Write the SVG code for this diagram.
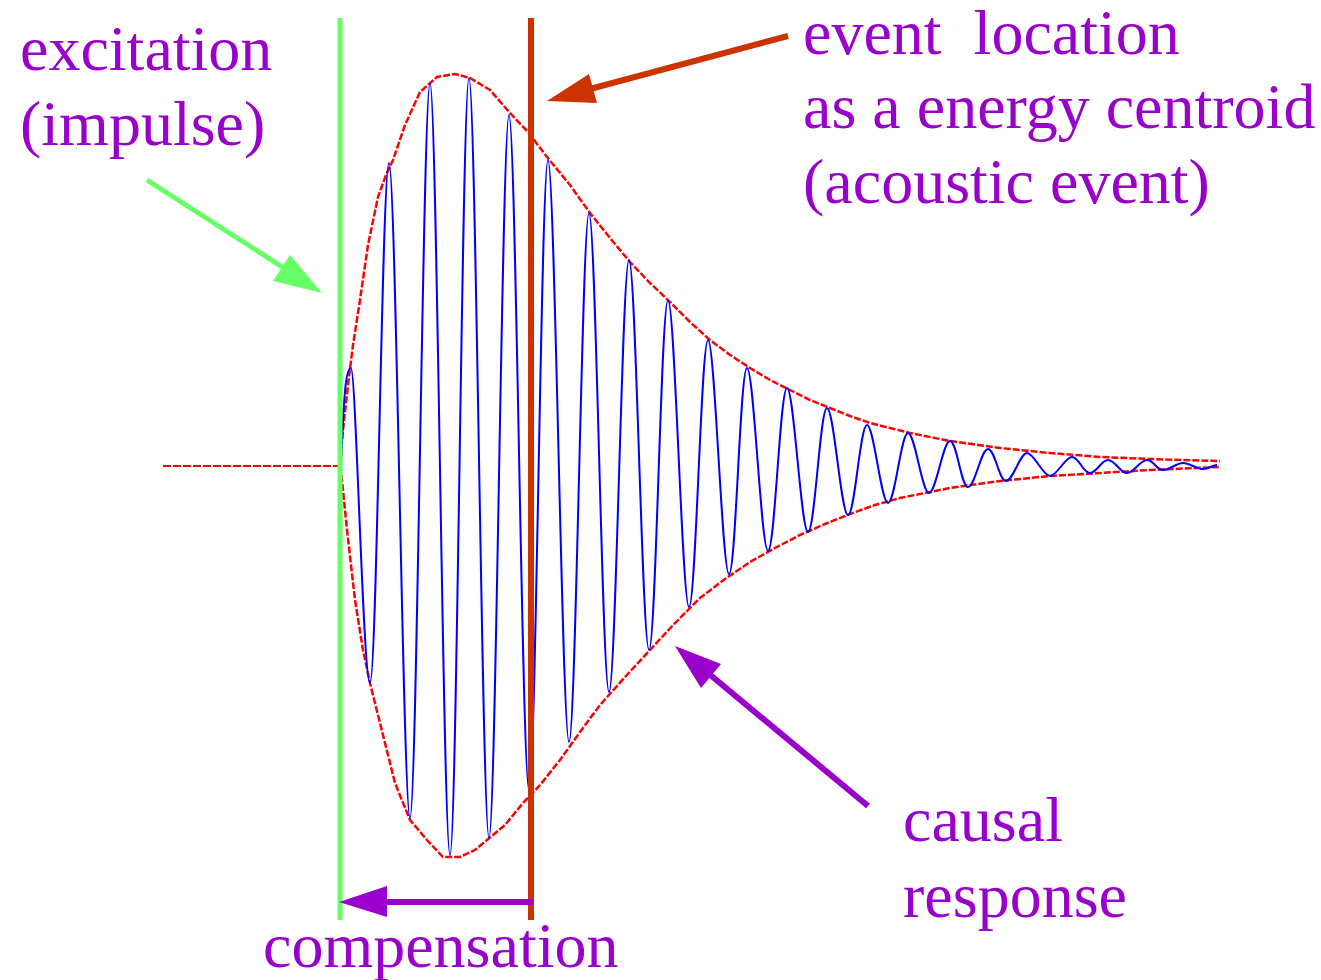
<svg xmlns="http://www.w3.org/2000/svg" width="1321" height="980" viewBox="0 0 1321 980">
<style>
.lbl{font-family:"Liberation Serif","Times New Roman",serif;font-size:64px;fill:#9900CC}
.env{fill:none;stroke:#FF0000;stroke-width:2.5;stroke-dasharray:7 2}
.wave{fill:none;stroke:#0000FF;stroke-width:2;stroke-linejoin:round}
</style>
<rect width="1321" height="980" fill="#FFFFFF"/>
<g id="signal">
<line x1="163" y1="466" x2="340" y2="466" stroke="#FF0000" stroke-width="2" stroke-dasharray="8 2"/>
<polyline class="env" points="340,466 343,430 348,385 353,345 360,300 368,245 378,197 386,175 393,160 405,125 420,92 437,77 455,74 470,78 490,90 510,113 528,132 547,157 570,185 590,213 610,238 630,262 650,283 670,302 690,322 710,340 730,355 750,368 770,380 790,390 810,400 830,408 850,416 870,423 890,428 910,433 950,441 1000,448 1050,453 1100,457 1150,459 1220,461"/>
<polyline class="env" points="340,466 342,480 347,530 355,600 363,650 370,683 380,723 395,783 410,820 427,840 443,857 460,857 475,850 487,840 505,825 523,803 540,785 560,760 580,732 600,705 625,677 650,650 675,623 700,598 725,579 750,562 775,548 800,535 825,524 850,514 875,505 900,498 950,488 1000,481 1050,476 1100,473 1150,470 1220,467"/>
<path class="wave" d="M341,466 C344,390 346,368 351,368 S363,683 370,683 S382,163 389,163 S403,818 410,818 S423,83 430,83 S443,855 450,855 S462,78 469,78 S482,838 489,838 S502,115 509,115 S522,790 529,790 S541,160 548,160 S562,742 569,742 S582,213 589,213 S602,692 609,692 S622,260 629,260 S642,650 649,650 S661,300 668,300 S682,607 689,607 S701,340 708,340 S722,574 729,574 S740,368 747,368 S761,551 768,551 S780,388 787,388 S801,532 808,532 S820,408 827,408 S841,515 848,515 S860,425 867,425 S881,503 888,503 S901,433 908,433 S922,493 929,493 S943,441 950,441 S961,487 968,487 S981,449 988,449 S999,481 1006,481 S1020,453 1027,453 S1043,476 1050,476 S1065,457 1072,457 S1083,473 1090,473 S1101,460 1108,460 S1120,473 1127,473 S1140,460 1147,460 S1156,470 1163,470 S1176,463 1183,463 S1196,469 1203,469 S1212,465 1217,465"/>
</g>
<g id="excitation-line">
<line x1="340" y1="18" x2="340" y2="920" stroke="#66FF66" stroke-width="5"/>
</g>
<g id="event-line">
<line x1="531" y1="18" x2="531" y2="920" stroke="#CC3300" stroke-width="6"/>
</g>
<g id="connectors">
<line x1="147" y1="180" x2="290" y2="272" stroke="#66FF66" stroke-width="5"/>
<polygon points="322,293 273,281 290,255" fill="#66FF66"/>
<line x1="788" y1="36" x2="590" y2="89" stroke="#CC3300" stroke-width="6"/>
<polygon points="547,101 589,74 597,103" fill="#CC3300"/>
<line x1="533" y1="902" x2="385" y2="902" stroke="#9900CC" stroke-width="6"/>
<polygon points="339,902 387,886 387,917" fill="#9900CC"/>
<line x1="868" y1="806" x2="708" y2="673" stroke="#9900CC" stroke-width="6"/>
<polygon points="675,646 721,664 701,688" fill="#9900CC"/>
</g>
<g id="label-excitation">
<text class="lbl" x="20" y="70">excitation</text>
<text class="lbl" x="20" y="145">(impulse)</text>
</g>
<g id="label-event">
<text class="lbl" x="803" y="54" xml:space="preserve">event  location</text>
<text class="lbl" x="803" y="128">as a energy centroid</text>
<text class="lbl" x="803" y="203">(acoustic event)</text>
</g>
<g id="label-causal">
<text class="lbl" x="903" y="841">causal</text>
<text class="lbl" x="903" y="917">response</text>
</g>
<g id="label-compensation">
<text class="lbl" x="263" y="967">compensation</text>
</g>
</svg>
